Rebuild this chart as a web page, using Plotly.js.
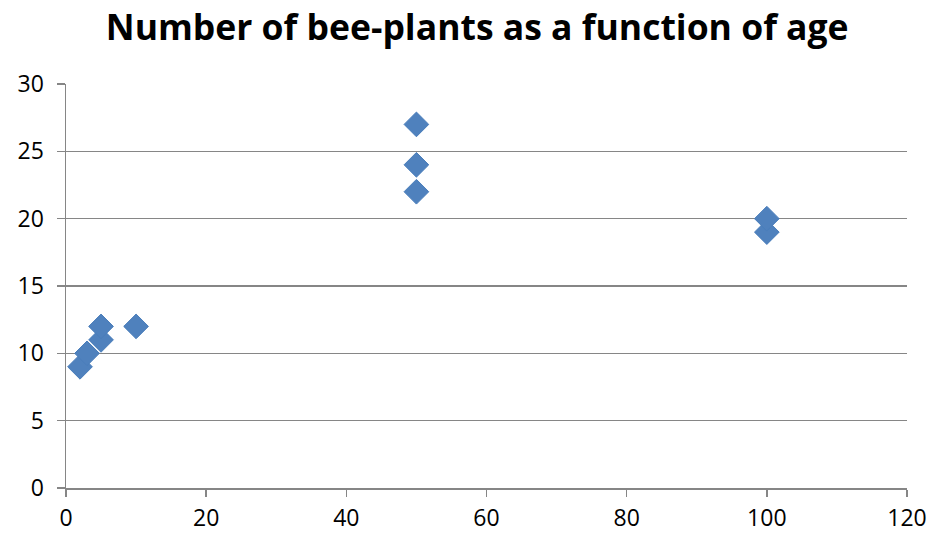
<!DOCTYPE html>
<html>
<head>
<meta charset="utf-8">
<script src="https://cdn.plot.ly/plotly-3.0.1.min.js"></script>
<style>html,body{margin:0;padding:0;background:#fff}#chart{width:932px;height:533px}</style>
</head>
<body>
<div id="chart"></div>
<script>
// Age of the plant vs. number of bee-plants observed
const ages = [2, 3, 5, 5, 10, 50, 50, 50, 100, 100];
const beePlants = [9, 10, 11, 12, 12, 22, 24, 27, 19, 20];
const xTicks = [0, 20, 40, 60, 80, 100, 120];
const yTicks = [0, 5, 10, 15, 20, 25, 30];

const gridColor = '#868686';
const fontFamily = '"Open Sans", sans-serif';
const tickFont = {family: fontFamily, size: 23, color: '#000'};

Plotly.newPlot('chart', [{
  x: ages,
  y: beePlants,
  type: 'scatter',
  mode: 'markers',
  marker: {symbol: 'diamond', size: 19, color: '#4F81BD', line: {color: '#4A7EBB', width: 1}},
  hoverinfo: 'x+y'
}], {
  width: 932, height: 533,
  margin: {l: 66, r: 25, t: 84, b: 45},
  paper_bgcolor: '#fff', plot_bgcolor: '#fff',
  showlegend: false,
  title: {
    text: '<b>Number of bee-plants as a function of age</b>',
    font: {family: fontFamily, size: 35.5, color: '#000'},
    x: 0.512, xanchor: 'center', y: 0.948, yanchor: 'middle'
  },
  xaxis: {
    range: [0, 120], tickvals: xTicks, ticktext: xTicks.map(String),
    showgrid: false, zeroline: false,
    showline: true, linecolor: gridColor, linewidth: 1.5,
    ticks: 'outside', ticklen: 7, tickcolor: gridColor, tickwidth: 1.5,
    ticklabelstandoff: 2,
    tickfont: tickFont, fixedrange: true
  },
  yaxis: {
    range: [0, 30], tickvals: yTicks, ticktext: yTicks.map(String),
    showgrid: true, gridcolor: gridColor, gridwidth: 1.5, zeroline: false,
    showline: true, linecolor: gridColor, linewidth: 1.5,
    ticks: 'outside', ticklen: 8, tickcolor: gridColor, tickwidth: 1.5,
    ticklabelstandoff: 8,
    tickfont: tickFont, fixedrange: true
  }
}, {displayModeBar: false, staticPlot: true});
</script>
</body>
</html>
